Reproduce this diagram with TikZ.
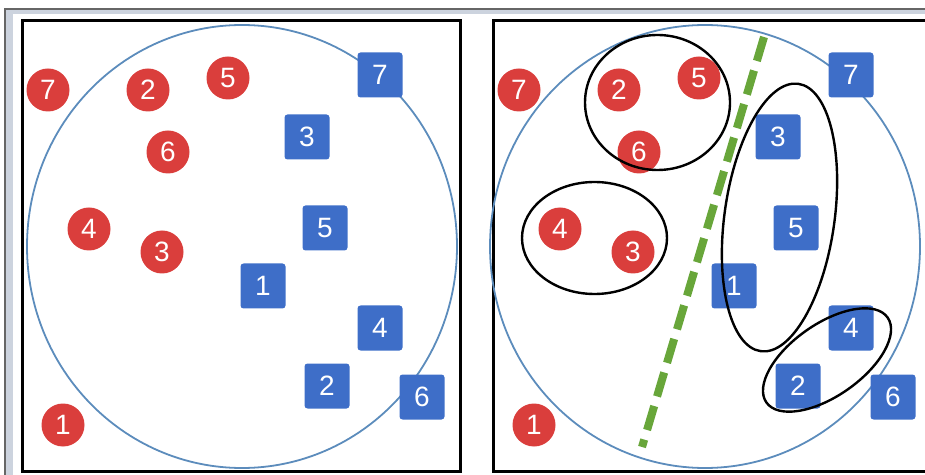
\documentclass[tikz,border=0pt]{standalone}
\usepackage{fontspec}
\setmainfont{Liberation Sans}
\definecolor{ptred}{RGB}{218,62,60}
\definecolor{ptblue}{RGB}{62,110,200}
\definecolor{rimblue}{RGB}{92,140,188}
\definecolor{cutgreen}{RGB}{104,166,58}
\definecolor{winband}{RGB}{204,211,222}
\begin{document}
\begin{tikzpicture}[x=0.5pt, y=-0.5pt,
    redpt/.style={circle, fill=ptred, text=white, inner sep=0pt, minimum size=21.5pt, font=\fontsize{14}{14}\selectfont},
    bluept/.style={rectangle, rounded corners=1.5pt, fill=ptblue, text=white, inner sep=0pt, minimum size=22.5pt, font=\fontsize{14}{14}\selectfont},
    panelbox/.style={draw=black, line width=1.5pt},
    rim/.style={draw=rimblue, line width=0.9pt},
    cluster/.style={draw=black, line width=1.2pt}]
    \useasboundingbox (0,0) rectangle (925,475);
    \clip (0,0) rectangle (925,475);

    % Window frame round both panels
    \fill[winband] (5,9) rectangle (925,14);
    \fill[winband] (5,9) rectangle (13,475);
    \draw[gray!80!black, line width=0.75pt] (5,475) -- (5,9) -- (925,9);

    % The two panels, same points
    \foreach \p/\dx/\cx in {l/0/242, r/471/234} {
      \begin{scope}[xshift=\dx*0.5pt]
        \draw[panelbox] (22,21) rectangle (460,471);
        \draw[rim] (\cx,246.5) ellipse [x radius=215, y radius=221.5];

        % Red class
        \node[redpt] (\p r7) at (48,90) {7};
        \node[redpt] (\p r2) at (148,90) {2};
        \node[redpt] (\p r5) at (228,78) {5};
        \node[redpt] (\p r6) at (168,152) {6};
        \node[redpt] (\p r4) at (89,229) {4};
        \node[redpt] (\p r3) at (162,252) {3};
        \node[redpt] (\p r1) at (63,425) {1};

        % Blue class
        \node[bluept] (\p b7) at (380,75) {7};
        \node[bluept] (\p b3) at (307,137) {3};
        \node[bluept] (\p b5) at (325,228) {5};
        \node[bluept] (\p b1) at (263,286) {1};
        \node[bluept] (\p b4) at (380,328) {4};
        \node[bluept] (\p b2) at (327,386) {2};
        \node[bluept] (\p b6) at (422,397) {6};
      \end{scope}
    }

    % Clusters in the right panel
    \draw[cluster] (657.5,102.5) ellipse [x radius=72.5, y radius=67.5];
    \draw[cluster] (594.5,238) ellipse [x radius=72.5, y radius=56];
    \draw[cluster, rotate around={-8:(779.5,217.5)}] (779.5,217.5) ellipse [x radius=55, y radius=135];
    \draw[cluster, rotate around={35:(827,360)}] (827,360) ellipse [x radius=74, y radius=36];

    % Separating line
    \coordinate (cuttop) at (764,37);
    \coordinate (cutbot) at (642,447);
    \draw[cutgreen, line width=4pt, dash pattern=on 12.5pt off 5pt] (cuttop) -- (cutbot);
\end{tikzpicture}
\end{document}
